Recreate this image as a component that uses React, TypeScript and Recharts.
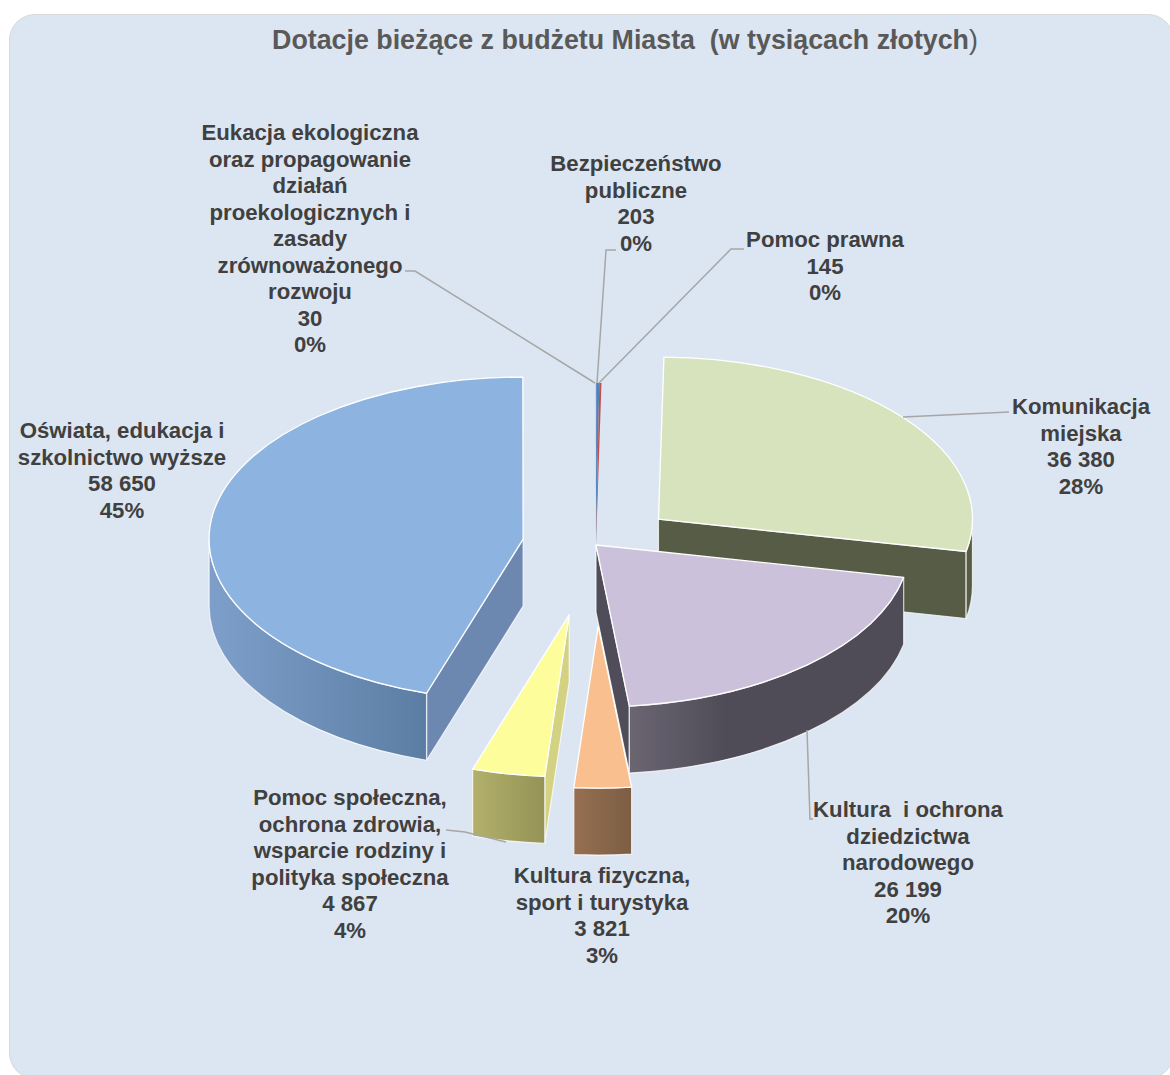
import React from "react";
import { PieChart, Pie } from "recharts";

const WIDTH = 1170;
const HEIGHT = 1075;

// ---- data ----
const categories = [
  ["Komunikacja", "miejska"],
  ["Kultura  i ochrona", "dziedzictwa", "narodowego"],
  ["Kultura fizyczna,", "sport i turystyka"],
  ["Pomoc społeczna,", "ochrona zdrowia,", "wsparcie rodziny i", "polityka społeczna"],
  ["Oświata, edukacja i", "szkolnictwo wyższe"],
  ["Eukacja ekologiczna", "oraz propagowanie", "działań", "proekologicznych i", "zasady", "zrównoważonego", "rozwoju"],
  ["Bezpieczeństwo", "publiczne"],
  ["Pomoc prawna"],
];
const values = [36380, 26199, 3821, 4867, 58650, 30, 203, 145];

// ---- geometry & styling ----
const explode = [0.255, 0, 0.5, 0.44, 0.235, 0, 0, 0];
const topColors = ["#d7e3bc", "#ccc1da", "#f9bf8e", "#fdfd9c", "#8db3e0", "#9bbb59", "#4f81bd", "#c0504d"];
const wallFrom = ["#585d48", "#6b6572", "#966f50", "#b2b06a", "#7e9fca", "#7c9647", "#3f6797", "#9a403e"];
const wallTo = ["#565b46", "#4f4c58", "#7c5e44", "#959356", "#5c7da3", "#7c9647", "#3f6797", "#9a403e"];
const wallStop = ["100%", "35%", "100%", "100%", "100%", "100%", "100%", "100%"];
const faceColors = ["#575c47", "#504d5a", "#7c5e44", "#d3d283", "#6c88b0", "#7c9647", "#3f6797", "#9a403e"];
const labelPos = [
  { x: 1081, y: 414 },
  { x: 908, y: 817 },
  { x: 602, y: 883 },
  { x: 350, y: 805 },
  { x: 122, y: 438 },
  { x: 310, y: 140 },
  { x: 636, y: 171 },
  { x: 825, y: 247 },
];
const leaders: (number[][] | null)[] = [
  [[903, 417], [1009, 412]],
  [[807, 730], [810, 819], [813, 819]],
  null,
  [[506, 842], [465, 832], [446, 830]],
  null,
  [[595, 383], [415, 271], [405, 271]],
  [[597, 383], [606, 250], [616, 250]],
  [[599, 383], [731, 249], [744, 249]],
];
const CX = 596;
const CY = 545;
const RX = 314;
const TILT = 0.516;
const DEPTH = 67;
const LINE_H = 26.55;

const tableData = values.map((value, i) => ({ name: categories[i].join(" "), value }));

const fmt = (v: number) => String(v).replace(/\B(?=(\d{3})+(?!\d))/g, " ");

// Recharts angle (deg, counter-clockwise from 3 o'clock) -> compass angle, clockwise from north
const compass = (a: number) => 90 - a;

function Slice(props: any) {
  const { startAngle, endAngle, outerRadius, index } = props;
  const a1 = compass(startAngle);
  const a2 = compass(endAngle);
  const rad = (d: number) => (d * Math.PI) / 180;
  const rx = outerRadius;
  const ry = outerRadius * TILT;
  const mid = rad((a1 + a2) / 2);
  const e = explode[index];
  const ax = CX + e * rx * Math.sin(mid);
  const ay = CY - e * ry * Math.cos(mid);
  const pt = (d: number, dy = 0) => [ax + rx * Math.sin(rad(d)), ay - ry * Math.cos(rad(d)) + dy];
  const [sx, sy] = pt(a1);
  const [ex, ey] = pt(a2);
  const large = a2 - a1 > 180 ? 1 : 0;
  const top = `M${ax},${ay} L${sx},${sy} A${rx},${ry} 0 ${large} 1 ${ex},${ey} Z`;
  const thin = a2 - a1 < 2;

  const faces: React.ReactNode[] = [];
  const face = (d: number, key: string) => {
    const [x, y] = pt(d);
    faces.push(
      <path key={key} d={`M${ax},${ay} L${x},${y} L${x},${y + DEPTH} L${ax},${ay + DEPTH} Z`}
        fill={faceColors[index]} stroke="#ffffff" strokeOpacity={0.75} strokeWidth={1.2} strokeLinejoin="round" />
    );
  };
  // end face looks south when its edge is in the eastern half, start face in the western half
  const norm = (d: number) => ((d % 360) + 360) % 360;
  if (!thin && norm(a2) > 0 && norm(a2) < 180) face(a2, "end");
  if (!thin && norm(a1) > 180 && norm(a1) < 360) face(a1, "start");

  const wStart = Math.max(a1, 90);
  const wEnd = Math.min(a2, 270);
  let wall: React.ReactNode = null;
  if (wEnd > wStart) {
    const [wsx, wsy] = pt(wStart);
    const [wex, wey] = pt(wEnd);
    const d = `M${wsx},${wsy} A${rx},${ry} 0 0 1 ${wex},${wey} L${wex},${wey + DEPTH} A${rx},${ry} 0 0 0 ${wsx},${wsy + DEPTH} Z`;
    wall = (
      <g>
        <defs>
          <linearGradient id={`wall-${index}`} x1="0" y1="0" x2="1" y2="0">
            <stop offset="0%" stopColor={wallFrom[index]} />
            <stop offset={wallStop[index]} stopColor={wallTo[index]} />
          </linearGradient>
        </defs>
        <path d={d} fill={`url(#wall-${index})`} stroke="#ffffff" strokeOpacity={0.75} strokeWidth={1.2} strokeLinejoin="round" />
      </g>
    );
  }
  return (
    <g>
      {faces}
      {wall}
      <path d={top} fill={topColors[index]} stroke={thin ? "none" : "#ffffff"} strokeWidth={1.3} strokeLinejoin="round" />
    </g>
  );
}

function renderLabel(props: any) {
  const { index, value, percent } = props;
  const pos = labelPos[index];
  const lines = [...categories[index], fmt(value), `${Math.round(percent * 100)}%`];
  const lead = leaders[index];
  return (
    <g key={index}>
      {lead && (
        <polyline points={lead.map((p) => p.join(",")).join(" ")} fill="none" stroke="#a6a6a6" strokeWidth={1.5} />
      )}
      <text x={pos.x} y={pos.y} textAnchor="middle" fontFamily="'Liberation Sans', Arial, sans-serif"
        fontWeight={700} fontSize={22.2} fill="#404040" xmlSpace="preserve" style={{ whiteSpace: "pre" }}>
        {lines.map((l, i) => (
          <tspan key={i} x={pos.x} y={pos.y + i * LINE_H}>{l}</tspan>
        ))}
      </text>
    </g>
  );
}

export default function App() {
  return (
    <div style={{ position: "absolute", left: 0, top: 0, width: WIDTH, height: HEIGHT, overflow: "hidden", background: "#ffffff" }}>
      <div style={{
        position: "absolute", left: 9, top: 14, width: 1165, height: 1065, boxSizing: "border-box",
        background: "#dce6f2", border: "1.5px solid #d9d9d9", borderRadius: 26,
      }} />
      <div style={{
        position: "absolute", left: 0, top: 23, width: 1250, textAlign: "center", whiteSpace: "pre",
        fontFamily: "'Liberation Sans', Arial, sans-serif", fontSize: 26.8, lineHeight: "34px", fontWeight: 700, color: "#595959",
      }}>
        Dotacje bieżące z budżetu Miasta  (w tysiącach złotych<span style={{ fontWeight: 400 }}>)</span>
      </div>
      <div style={{ position: "absolute", left: 0, top: 0 }}>
        <PieChart width={WIDTH} height={HEIGHT} margin={{ top: 0, right: 0, bottom: 0, left: 0 }}>
          <Pie
            data={tableData}
            dataKey="value"
            nameKey="name"
            cx={CX}
            cy={CY}
            innerRadius={0}
            outerRadius={RX}
            startAngle={89}
            endAngle={-271}
            paddingAngle={0}
            stroke="none"
            isAnimationActive={false}
            shape={Slice}
            label={renderLabel}
            labelLine={false}
          />
        </PieChart>
      </div>
    </div>
  );
}
